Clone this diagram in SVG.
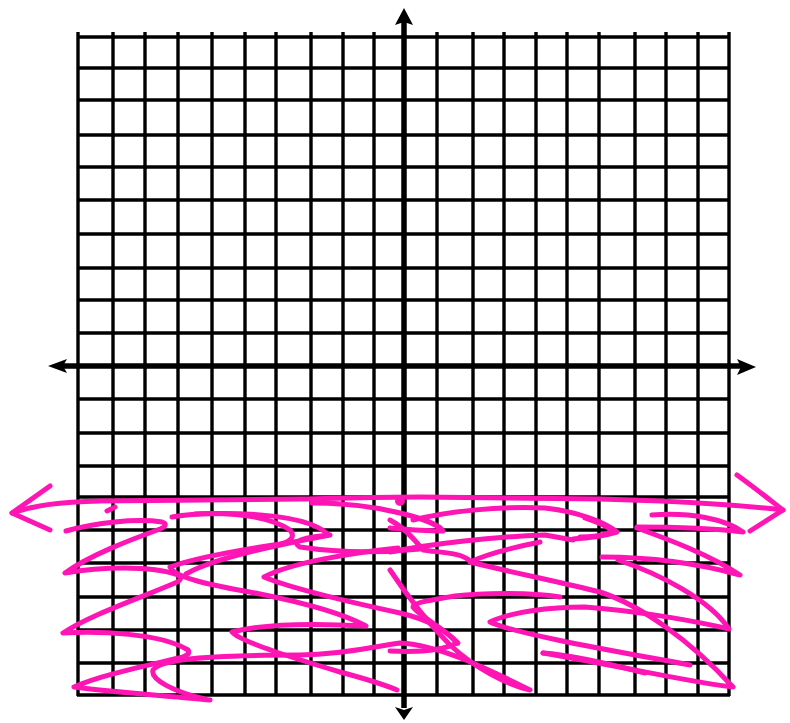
<svg xmlns="http://www.w3.org/2000/svg" width="790" height="723" viewBox="0 0 790 723">
<style>
.g{stroke:#000;stroke-width:3.4;fill:none}
.ax{stroke:#000;stroke-width:5.5;fill:none}
.ah{fill:#000}
.pk{stroke:#ff14b4;stroke-width:5;fill:none;stroke-linecap:round;stroke-linejoin:round}
</style>
<rect width="790" height="723" fill="#fff"/>
<g id="grid">
<g id="verticals">
<line class="g" x1="78" y1="32" x2="78" y2="696"/>
<line class="g" x1="113" y1="32" x2="113" y2="696"/>
<line class="g" x1="145" y1="32" x2="145" y2="696"/>
<line class="g" x1="178" y1="32" x2="178" y2="696"/>
<line class="g" x1="212" y1="32" x2="212" y2="696"/>
<line class="g" x1="245" y1="32" x2="245" y2="696"/>
<line class="g" x1="276" y1="32" x2="276" y2="696"/>
<line class="g" x1="311" y1="32" x2="311" y2="696"/>
<line class="g" x1="343" y1="32" x2="343" y2="696"/>
<line class="g" x1="374" y1="32" x2="374" y2="696"/>
<line class="g" x1="437" y1="32" x2="437" y2="696"/>
<line class="g" x1="473" y1="32" x2="473" y2="696"/>
<line class="g" x1="504" y1="32" x2="504" y2="696"/>
<line class="g" x1="536" y1="32" x2="536" y2="696"/>
<line class="g" x1="567" y1="32" x2="567" y2="696"/>
<line class="g" x1="599" y1="32" x2="599" y2="696"/>
<line class="g" x1="635" y1="32" x2="635" y2="696"/>
<line class="g" x1="666" y1="32" x2="666" y2="696"/>
<line class="g" x1="698" y1="32" x2="698" y2="696"/>
<line class="g" x1="729" y1="32" x2="729" y2="696"/>
</g>
<g id="horizontals">
<line class="g" x1="77" y1="37" x2="730" y2="37"/>
<line class="g" x1="77" y1="68" x2="730" y2="68"/>
<line class="g" x1="77" y1="100" x2="730" y2="100"/>
<line class="g" x1="77" y1="135" x2="730" y2="135"/>
<line class="g" x1="77" y1="167" x2="730" y2="167"/>
<line class="g" x1="77" y1="200" x2="730" y2="200"/>
<line class="g" x1="77" y1="234" x2="730" y2="234"/>
<line class="g" x1="77" y1="268" x2="730" y2="268"/>
<line class="g" x1="77" y1="300" x2="730" y2="300"/>
<line class="g" x1="77" y1="333" x2="730" y2="333"/>
<line class="g" x1="77" y1="399" x2="730" y2="399"/>
<line class="g" x1="77" y1="433" x2="730" y2="433"/>
<line class="g" x1="77" y1="466" x2="730" y2="466"/>
<line class="g" x1="77" y1="497" x2="730" y2="497"/>
<line class="g" x1="77" y1="530" x2="730" y2="530"/>
<line class="g" x1="77" y1="563" x2="730" y2="563"/>
<line class="g" x1="77" y1="597" x2="730" y2="597"/>
<line class="g" x1="77" y1="630" x2="730" y2="630"/>
<line class="g" x1="77" y1="663" x2="730" y2="663"/>
<line class="g" x1="77" y1="695" x2="730" y2="695"/>
</g>
</g>
<g id="axes">
<line class="ax" x1="404" y1="20" x2="404" y2="708"/>
<line class="ax" x1="60" y1="366" x2="745" y2="366"/>
<polygon class="ah" points="404,8 395,25 404,22 413,25"/>
<polygon class="ah" points="404,720 395,707 404,710 413,707"/>
<polygon class="ah" points="48,366 67,359 63,366 67,373"/>
<polygon class="ah" points="756,367 737,359 741,367 737,375"/>
</g>
<g id="shading">
<path class="pk" d="M12,513 C35,505 60,502 100,501 L300,499 C350,498 380,497 420,497 L600,499 C680,501 740,505 783,510"/>
<path class="pk" d="M50,486 L12,513 L50,530"/>
<path class="pk" d="M737,475 C755,488 770,500 783,510 L750,531"/>
<path class="pk" d="M107,511 L115,507"/>
<path class="pk" d="M66,531 C95,523 135,518 162,522 C168,524 165,527 160,529 C130,540 90,555 65,573 C100,567 150,565 178,575 C183,578 180,581 175,583 C140,598 90,615 63,633 C100,631 160,633 188,650 C190,653 188,655 183,657 C150,665 100,675 74,687 C110,692 170,696 210,700"/>
<path class="pk" d="M205,699 C175,692 150,680 153,670 C160,658 220,655 300,655 C350,654 380,645 400,643 C440,645 490,670 530,690 C505,684 475,668 450,645 C430,625 410,600 390,570"/>
<path class="pk" d="M172,517 C210,510 265,513 290,530 C296,537 290,542 280,544 C240,550 195,558 170,567 C175,578 210,585 260,594 C300,602 340,612 366,626 C330,624 270,622 232,632 C240,642 300,660 340,672 C370,680 385,685 397,690"/>
<path class="pk" d="M186,574 C210,560 260,548 330,535 C305,537 290,541 300,547 C340,553 380,553 420,549"/>
<path class="pk" d="M398,548 C350,553 290,563 264,577 C290,588 340,600 400,613 C430,620 445,630 458,643"/>
<path class="pk" d="M195,514 C240,512 285,515 310,524 C320,528 326,532 328,535"/>
<path class="pk" d="M312,503 C350,503 380,508 400,513 C425,519 440,526 443,531 C425,531 405,529 390,528"/>
<path class="pk" d="M413,520 C450,511 500,506 545,508 C575,511 605,522 617,532 C600,537 588,538 573,539"/>
<path class="pk" d="M390,552 C430,544 490,537 545,535 L573,540"/>
<path class="pk" d="M390,520 C405,528 415,540 423,550 C445,553 462,553 470,561"/>
<path class="pk" d="M540,542 C510,548 485,555 470,562 C510,572 560,582 600,592 C640,605 690,640 733,687 C700,684 640,670 543,653"/>
<path class="pk" d="M560,597 C530,592 480,593 455,596 C430,600 413,603 413,607 C420,617 445,628 457,643 C440,652 410,652 390,651"/>
<path class="pk" d="M618,560 C660,574 710,600 729,629 C700,622 640,611 585,607 C550,607 510,612 490,622 C515,634 620,652 690,665"/>
<path class="pk" d="M543,653 C570,655 610,664 645,673"/>
<path class="pk" d="M585,518 C600,523 610,528 612,532 C600,536 590,537 580,537"/>
<path class="pk" d="M652,515 C690,512 725,519 743,532 C710,528 670,527 637,527"/>
<path class="pk" d="M637,528 C670,540 710,555 740,575 C700,564 650,557 602,557"/>
<circle cx="400" cy="501" r="5" fill="#ff14b4"/>
</g>
</svg>
